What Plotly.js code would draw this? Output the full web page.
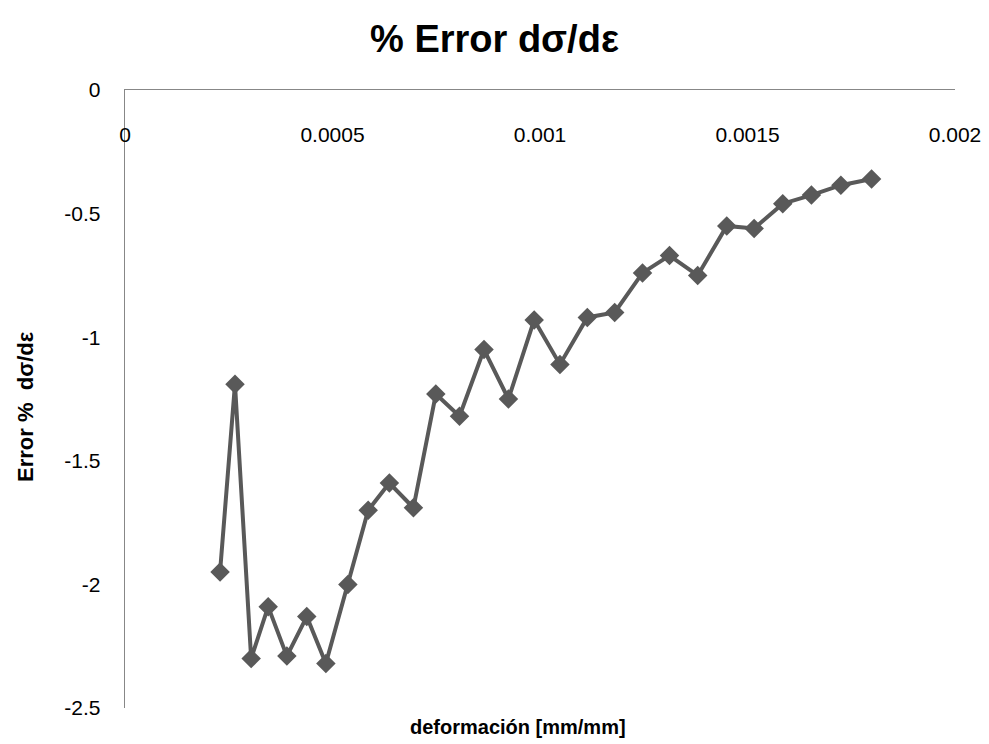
<!DOCTYPE html>
<html>
<head>
<meta charset="utf-8">
<script src="https://cdn.plot.ly/plotly-3.0.1.min.js"></script>
<style>html,body{margin:0;padding:0;background:#fff;}#chart{width:989px;height:744px;}</style>
</head>
<body>
<div id="chart"></div>
<script>
const strain = [0.000229, 0.000265, 0.000304, 0.000345, 0.000390, 0.000438, 0.000484, 0.000537, 0.000586, 0.000637,
  0.000695, 0.000749, 0.000806, 0.000865, 0.000924, 0.000986, 0.001048, 0.001114, 0.001180, 0.001247,
  0.001312, 0.001380, 0.001450, 0.001516, 0.001585, 0.001654, 0.001725, 0.001799];
const errorPct = [-1.95, -1.19, -2.30, -2.09, -2.29, -2.13, -2.32, -2.00, -1.70, -1.59,
  -1.69, -1.23, -1.32, -1.05, -1.25, -0.93, -1.11, -0.92, -0.90, -0.74,
  -0.67, -0.75, -0.55, -0.56, -0.46, -0.425, -0.385, -0.36];
const xTicks = [0, 0.0005, 0.001, 0.0015, 0.002];
const xTickText = ['0', '0.0005', '0.001', '0.0015', '0.002'];
const yTicks = [0, -0.5, -1, -1.5, -2, -2.5];
const yTickText = ['0', '-0.5', '-1', '-1.5', '-2', '-2.5'];

const font = 'Liberation Sans, Arial, sans-serif';
const trace = {
  x: strain, y: errorPct, type: 'scatter', mode: 'lines+markers',
  line: {color: '#595959', width: 4},
  marker: {symbol: 'diamond', size: 15, color: '#595959'},
  hoverinfo: 'skip'
};
const layout = {
  width: 989, height: 744,
  margin: {l: 125, r: 34, t: 90, b: 36},
  paper_bgcolor: '#fff', plot_bgcolor: '#fff',
  showlegend: false,
  title: {text: '<b>% Error dσ/dε</b>', x: 0.5, xref: 'container', xanchor: 'center', y: 0.948, yref: 'container', yanchor: 'middle', font: {family: font, size: 38, color: '#000'}},
  xaxis: {range: [0, 0.002], side: 'top', showline: true, linecolor: '#878787', linewidth: 1.3, showgrid: false, zeroline: false,
    tickmode: 'array', tickvals: xTicks, ticktext: xTickText, ticks: '', tickfont: {family: font, size: 21, color: '#000'},
    ticklabelstandoff: -62},
  yaxis: {range: [-2.5, 0], showline: true, linecolor: '#878787', linewidth: 1.3, showgrid: false, zeroline: false,
    tickmode: 'array', tickvals: yTicks, ticktext: yTickText, ticks: '', tickfont: {family: font, size: 21, color: '#000'},
    ticklabelstandoff: 19},
  annotations: [
    {text: '<b>deformación [mm/mm]</b>', xref: 'paper', yref: 'paper', x: 0.4735, y: 0, yshift: -19, xanchor: 'center', yanchor: 'middle', showarrow: false, font: {family: font, size: 20, color: '#000'}},
    {text: '<b>Error %  dσ/dε</b>', xref: 'paper', yref: 'paper', x: 0, xshift: -100, y: 0.5, yshift: -8, xanchor: 'center', yanchor: 'middle', textangle: -90, showarrow: false, font: {family: font, size: 22, color: '#000'}}
  ]
};
Plotly.newPlot('chart', [trace], layout, {displayModeBar: false, staticPlot: true});
</script>
</body>
</html>
